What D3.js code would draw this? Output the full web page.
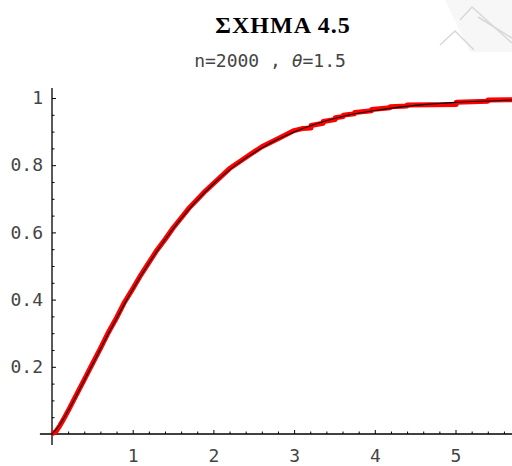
<!DOCTYPE html>
<html>
<head>
<meta charset="utf-8">
<script src="https://cdn.jsdelivr.net/npm/d3@7"></script>
<style>
  body { margin: 0; background: #fff; }
  svg { display: block; }
  .tick text { font-family: "DejaVu Sans Mono", "Liberation Mono", monospace; font-size: 18px; fill: #444; }
</style>
</head>
<body>
<div id="chart"></div>
<script>
// theoretical cdf (black)
const cdfX = [0, 0.1, 0.2, 0.3, 0.4, 0.5, 0.6, 0.7, 0.8, 0.9, 1.0, 1.2, 1.4, 1.6, 1.8, 2.0, 2.2, 2.4, 2.6, 2.8, 3.0, 3.25, 3.5, 3.75, 4.0, 4.5, 5.0, 5.5, 5.7];
const cdfY = [0, 0.029, 0.069, 0.113, 0.160, 0.206, 0.253, 0.299, 0.344, 0.388, 0.430, 0.508, 0.578, 0.641, 0.696, 0.744, 0.786, 0.821, 0.851, 0.877, 0.899, 0.921, 0.939, 0.953, 0.963, 0.978, 0.987, 0.992, 0.994];

// empirical cdf (red), n = 2000
const ecdfX = [0, 0.05, 0.1, 0.15, 0.2, 0.3, 0.4, 0.5, 0.6, 0.7, 0.8, 0.9, 1.0, 1.1, 1.2, 1.3, 1.4, 1.5, 1.6, 1.7, 1.8, 1.9, 2.0, 2.2, 2.4, 2.6, 2.8, 3.0, 3.1,
  3.21, 3.21, 3.36, 3.36, 3.51, 3.51, 3.61, 3.61, 3.75, 3.75, 3.96, 3.96, 4.19, 4.19, 4.40, 4.40, 5.01, 5.01, 5.40, 5.40, 5.7];
const ecdfY = [0, 0.008, 0.026, 0.047, 0.069, 0.116, 0.162, 0.209, 0.255, 0.303, 0.346, 0.393, 0.432, 0.473, 0.510, 0.547, 0.579, 0.613, 0.643, 0.673, 0.698, 0.723, 0.745, 0.790, 0.823, 0.855, 0.879, 0.903, 0.909,
  0.911, 0.918, 0.925, 0.930, 0.936, 0.941, 0.945, 0.949, 0.953, 0.957, 0.962, 0.966, 0.971, 0.974, 0.976, 0.979, 0.981, 0.987, 0.990, 0.994, 0.995];

const xMajor = [1, 2, 3, 4, 5];
const yMajor = [0.2, 0.4, 0.6, 0.8, 1];

const W = 512, H = 466;
const svg = d3.select("#chart").append("svg").attr("width", W).attr("height", H);

const x = d3.scaleLinear().domain([0, 5.7]).range([52, 512]);
const y = d3.scaleLinear().domain([0, 1]).range([434, 98]);

// faint watermark top right
svg.append("path").attr("d", "M445,0 L512,0 L512,52 L470,52 Z").attr("fill", "#f7f7f7");
const wm = svg.append("g").attr("stroke", "#d8d8d8").attr("stroke-width", 1.5).attr("fill", "none");
wm.append("path").attr("d", "M440,45 L455,31 L474,50");
wm.append("path").attr("d", "M460,20 L472,7 L512,43");
wm.append("path").attr("d", "M478,17 L512,38");

// title
svg.append("text")
  .attr("x", 283).attr("y", 33)
  .attr("text-anchor", "middle")
  .style("font-family", "'Liberation Serif', 'Times New Roman', serif")
  .style("font-weight", "bold")
  .style("font-size", "24px")
  .style("letter-spacing", "1px")
  .text("ΣΧΗΜΑ 4.5");

const sub = svg.append("text")
  .attr("x", 270).attr("y", 67)
  .attr("text-anchor", "middle")
  .style("font-family", "'DejaVu Sans Mono', monospace")
  .style("font-size", "18px")
  .style("fill", "#444");
sub.append("tspan").text("n=2000 , ");
sub.append("tspan").style("font-style", "italic").text("θ");
sub.append("tspan").text("=1.5");

// axes lines
svg.append("line")
  .attr("x1", x(-0.15)).attr("x2", x(5.7))
  .attr("y1", y(0)).attr("y2", y(0))
  .attr("stroke", "#000").attr("stroke-width", 1.3);
svg.append("line")
  .attr("x1", x(0)).attr("x2", x(0))
  .attr("y1", y(-0.033)).attr("y2", y(1.03))
  .attr("stroke", "#000").attr("stroke-width", 1.3);

const xMinor = d3.range(1, 29).map(i => i * 0.2).filter(v => Math.abs(v - Math.round(v)) > 1e-6);
const yMinor = d3.range(1, 21).map(i => i * 0.05).filter(v => Math.abs(v * 5 - Math.round(v * 5)) > 1e-6);

svg.append("g").attr("transform", `translate(0,${y(0)})`)
  .call(d3.axisBottom(x).tickValues(xMajor).tickSize(-4).tickPadding(15).tickFormat(d3.format("d")));
svg.append("g").attr("transform", `translate(0,${y(0)})`)
  .call(d3.axisBottom(x).tickValues(xMinor).tickSize(-2.5).tickFormat(""));

svg.append("g").attr("transform", `translate(${x(0)},0)`)
  .call(d3.axisLeft(y).tickValues(yMajor).tickSize(-4).tickPadding(9).tickFormat(d => d === 1 ? "1" : d3.format(".1f")(d)));
svg.append("g").attr("transform", `translate(${x(0)},0)`)
  .call(d3.axisLeft(y).tickValues(yMinor).tickSize(-2.5).tickFormat(""));

svg.selectAll(".domain").remove();
svg.selectAll(".tick line").attr("stroke", "#000");

// empirical (red) then theoretical (black) on top
const ecdf = ecdfX.map((v, i) => [v, ecdfY[i]]);
const cdf = cdfX.map((v, i) => [v, cdfY[i]]);

const line = d3.line().x(d => x(d[0])).y(d => y(d[1]));

svg.append("path").datum(ecdf)
  .attr("d", line)
  .attr("fill", "none")
  .attr("stroke", "#ff0000")
  .attr("stroke-width", 5)
  .attr("stroke-linejoin", "round");

svg.append("path").datum(cdf)
  .attr("d", line.curve(d3.curveMonotoneX))
  .attr("fill", "none")
  .attr("stroke", "#000")
  .attr("stroke-width", 1.1);
</script>
</body>
</html>
